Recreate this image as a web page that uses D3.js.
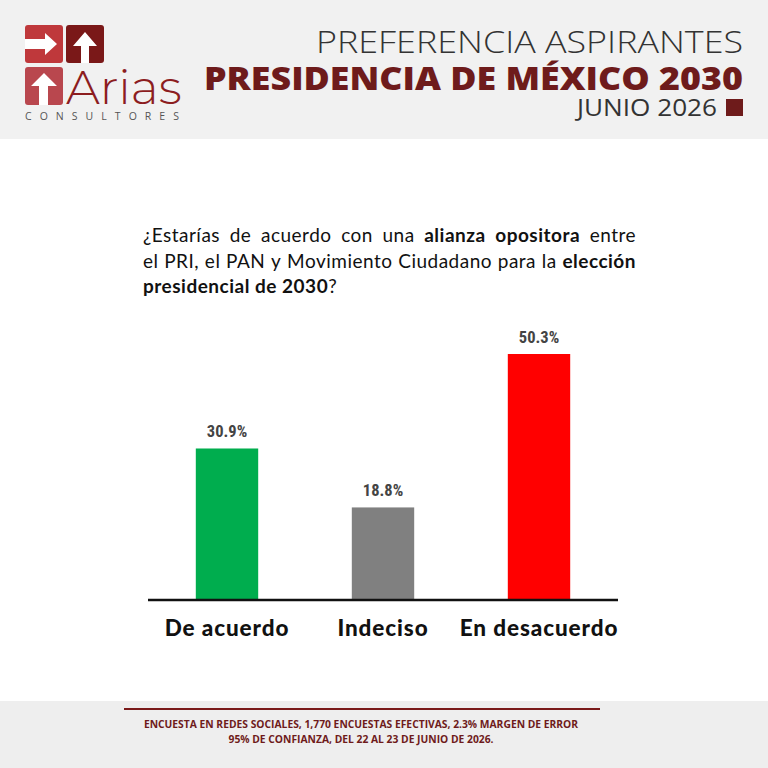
<!DOCTYPE html>
<html>
<head>
<meta charset="utf-8">
<script src="https://cdn.jsdelivr.net/npm/d3@7"></script>
<style>
  html, body { margin: 0; padding: 0; background: #ffffff; }
  svg { display: block; }
</style>
</head>
<body>
<svg id="chart" width="768" height="768"></svg>
<script>
// ---- data ----
const categories = ["De acuerdo", "Indeciso", "En desacuerdo"];
const values = [30.9, 18.8, 50.3];
const valueLabels = ["30.9%", "18.8%", "50.3%"];
const barColors = ["#00ad4e", "#808080", "#ff0000"];

const titleLine1 = "PREFERENCIA ASPIRANTES";
const titleLine2 = "PRESIDENCIA DE MÉXICO 2030";
const titleLine3 = "JUNIO 2026";
const questionLines = [
  [["¿Estarías", 0], ["de", 0], ["acuerdo", 0], ["con", 0], ["una", 0], ["alianza", 1], ["opositora", 1], ["entre", 0]],
  [["el", 0], ["PRI,", 0], ["el", 0], ["PAN", 0], ["y", 0], ["Movimiento", 0], ["Ciudadano", 0], ["para", 0], ["la", 0], ["elección", 1]],
  [["presidencial de 2030", 1], ["?", 0]]
];
const footerLines = [
  "ENCUESTA EN REDES SOCIALES, 1,770 ENCUESTAS EFECTIVAS, 2.3% MARGEN DE ERROR",
  "95% DE CONFIANZA, DEL 22 AL 23 DE JUNIO DE 2026."
];

const svg = d3.select("#chart");
const maroon = "#6e1b1b";

// ---- backgrounds ----
svg.append("rect").attr("x", 0).attr("y", 0).attr("width", 768).attr("height", 768).attr("fill", "#ffffff");
svg.append("rect").attr("x", 0).attr("y", 0).attr("width", 768).attr("height", 139).attr("fill", "#f1f1f1");
svg.append("rect").attr("x", 0).attr("y", 701).attr("width", 768).attr("height", 67).attr("fill", "#eeeeee");

// ---- logo ----
const logo = svg.append("g");
logo.append("rect").attr("x", 25).attr("y", 25).attr("width", 38).attr("height", 38).attr("rx", 3).attr("fill", "#bf383b");
logo.append("rect").attr("x", 66).attr("y", 25).attr("width", 38).attr("height", 38).attr("rx", 3).attr("fill", "#7a1818");
logo.append("rect").attr("x", 25).attr("y", 67).attr("width", 38).attr("height", 38).attr("rx", 3).attr("fill", "#b9474e");
logo.append("path").attr("fill", "#ffffff")
  .attr("d", "M25,39 L45,39 L45,33 L57,44 L45,55 L45,49 L25,49 Z");
logo.append("path").attr("fill", "#ffffff")
  .attr("d", "M81,63 L81,46 L73,46 L85,32 L97,46 L89,46 L89,63 Z");
logo.append("path").attr("fill", "#ffffff")
  .attr("d", "M39,105 L39,86 L31,86 L44,73 L57,86 L48,86 L48,105 Z");
logo.append("text").attr("x", 66).attr("y", 104)
  .attr("font-family", "Montserrat, 'Open Sans', sans-serif").attr("font-weight", 300)
  .attr("font-size", 48).attr("fill", "#8c1d1f").text("Arias");
logo.append("text").attr("x", 25).attr("y", 120)
  .attr("font-family", "'Open Sans', sans-serif").attr("font-weight", 400)
  .attr("font-size", 10.5).attr("fill", "#555555")
  .attr("textLength", 154).attr("lengthAdjust", "spacing").text("CONSULTORES");

// ---- header titles ----
svg.append("text").attr("x", 316).attr("y", 53)
  .attr("font-family", "'Open Sans', sans-serif").attr("font-weight", 300)
  .attr("font-size", 32).attr("fill", "#333333")
  .attr("textLength", 427).attr("lengthAdjust", "spacingAndGlyphs").text(titleLine1);
svg.append("text").attr("x", 204).attr("y", 90)
  .attr("font-family", "'Open Sans', sans-serif").attr("font-weight", 800)
  .attr("font-size", 32).attr("fill", maroon)
  .attr("textLength", 539).attr("lengthAdjust", "spacingAndGlyphs").text(titleLine2);
svg.append("text").attr("x", 577).attr("y", 116)
  .attr("font-family", "'Open Sans', sans-serif").attr("font-weight", 500)
  .attr("font-size", 23).attr("fill", "#333333")
  .attr("textLength", 140).attr("lengthAdjust", "spacingAndGlyphs").text(titleLine3);
svg.append("rect").attr("x", 726).attr("y", 99).attr("width", 17).attr("height", 17).attr("fill", maroon);

// ---- question (justified) ----
const qLeft = 143, qRight = 636, qTop = 242, qLH = 25.5;
questionLines.forEach((line, li) => {
  const y = qTop + li * qLH;
  const nodes = line.map(([w, b]) => svg.append("text")
    .attr("y", y)
    .attr("font-family", "Lato, 'Open Sans', sans-serif")
    .attr("font-weight", b ? 700 : 400)
    .attr("letter-spacing", 0.5)
    .attr("font-size", 19).attr("fill", "#111111").text(w));
  const widths = nodes.map(n => n.node().getComputedTextLength());
  const total = d3.sum(widths);
  const last = li === questionLines.length - 1;
  const gap = last ? 0 : (qRight - qLeft - total) / (nodes.length - 1);
  let x = qLeft;
  nodes.forEach((n, i) => { n.attr("x", x); x += widths[i] + gap; });
});

// ---- chart ----
const x = d3.scaleBand().domain(categories).range([149, 617]).paddingInner(0.6).paddingOuter(0.3);
const y = d3.scaleLinear().domain([0, 50.3]).range([599, 354]);

svg.append("g").selectAll("rect").data(values).join("rect")
  .attr("x", (d, i) => x(categories[i]))
  .attr("y", d => y(d))
  .attr("width", x.bandwidth())
  .attr("height", d => y(0) - y(d))
  .attr("fill", (d, i) => barColors[i]);

svg.append("g").selectAll("text").data(values).join("text")
  .attr("x", (d, i) => x(categories[i]) + x.bandwidth() / 2)
  .attr("y", d => y(d) - 11)
  .attr("text-anchor", "middle")
  .attr("font-family", "'Liberation Sans Narrow', 'Roboto Condensed', 'DejaVu Sans Condensed', sans-serif")
  .attr("font-weight", 700).attr("font-size", 16.5).attr("fill", "#444444")
  .text((d, i) => valueLabels[i]);

const axis = d3.axisBottom(x).tickSize(0).tickPadding(20);
const ax = svg.append("g").attr("transform", "translate(0,600)").call(axis);
ax.select(".domain").attr("d", "M148,0H618").attr("stroke", "#111111").attr("stroke-width", 2.5);
ax.selectAll(".tick text")
  .attr("font-family", "Lato, 'Open Sans', sans-serif").attr("font-weight", 900)
  .attr("font-size", 22.5).attr("letter-spacing", 0.9).attr("fill", "#111111").attr("dy", "0.71em");

// ---- footer ----
svg.append("line").attr("x1", 124).attr("x2", 600).attr("y1", 709).attr("y2", 709)
  .attr("stroke", "#7a1a1a").attr("stroke-width", 2);
footerLines.forEach((t, i) => {
  svg.append("text").attr("x", 361).attr("y", 728 + i * 15).attr("text-anchor", "middle")
    .attr("font-family", "'Open Sans', sans-serif").attr("font-weight", 700)
    .attr("font-size", 10.3).attr("fill", maroon).text(t);
});
</script>
</body>
</html>
